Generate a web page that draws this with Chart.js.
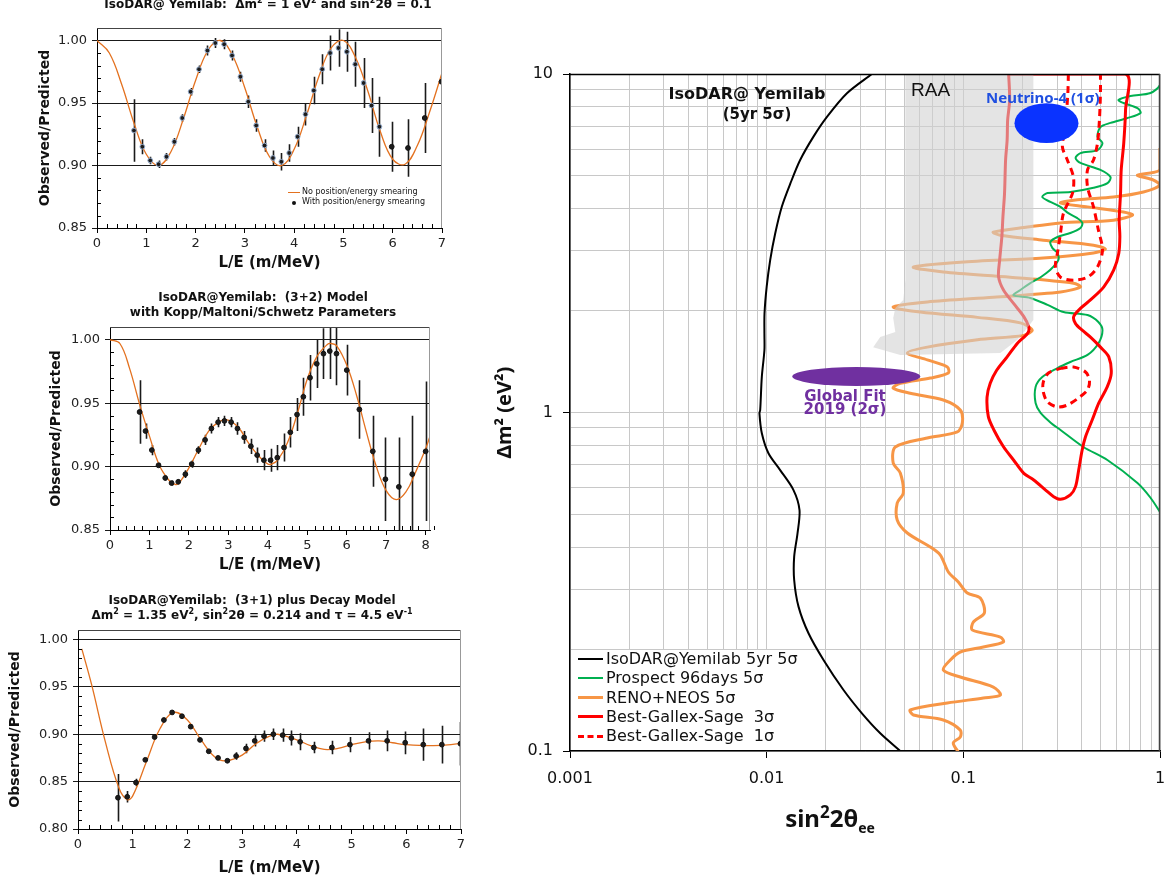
<!DOCTYPE html>
<html>
<head>
<meta charset="utf-8">
<script src="https://cdn.jsdelivr.net/npm/chart.js@4.4.1/dist/chart.umd.min.js"></script>
<style>
  body { margin: 0; background: #fff; }
  #page { position: relative; width: 1174px; height: 881px; overflow: hidden; font-family: "DejaVu Sans", Verdana, sans-serif; color: #111; }
  canvas { position: absolute; }
  .ttl { position: absolute; text-align: center; font-weight: bold; font-size: 12px; line-height: 15px; white-space: pre; }
  .ttl sup { font-size: 8px; line-height: 0; }
  .note { position: absolute; white-space: pre; }
  .lg-row { position: absolute; left: 0; white-space: pre; }
  .sw { position: absolute; }
</style>
</head>
<body>
<div id="page">
  <canvas id="cRatio1" width="470" height="285" style="left:0;top:0"></canvas>
  <canvas id="cRatio2" width="470" height="300" style="left:0;top:285px"></canvas>
  <canvas id="cRatio3" width="470" height="296" style="left:0;top:585px"></canvas>
  <canvas id="cMain" width="694" height="881" style="left:480px;top:0"></canvas>

  <div class="ttl" style="left:60px;top:-3px;width:416px">IsoDAR@ Yemilab:  Δm<sup>2</sup> = 1 eV<sup>2</sup> and sin<sup>2</sup>2θ = 0.1</div>
  <div class="ttl" style="left:63px;top:290px;width:400px">IsoDAR@Yemilab:  (3+2) Model
with Kopp/Maltoni/Schwetz Parameters</div>
  <div class="ttl" style="left:52px;top:593px;width:400px">IsoDAR@Yemilab:  (3+1) plus Decay Model
Δm<sup>2</sup> = 1.35 eV<sup>2</sup>, sin<sup>2</sup>2θ = 0.214 and τ = 4.5 eV<sup>-1</sup></div>

  <div id="legendRatio1" class="note" style="left:288px;top:186px;width:160px;height:24px;font-size:8px"></div>

  <div class="note" style="left:647px;top:83px;width:200px;text-align:center;font-weight:bold;font-size:16px;line-height:21px">IsoDAR@ Yemilab</div>
  <div class="note" style="left:657px;top:104px;width:200px;text-align:center;font-weight:bold;font-size:15px;line-height:21px">(5yr 5σ)</div>
  <div class="note" style="left:911px;top:79px;font-family:'Liberation Sans',Arial,sans-serif;font-size:19px;line-height:22px">RAA</div>
  <div class="note" style="left:986px;top:88px;font-family:'Noto Sans',sans-serif;font-weight:bold;font-size:15px;line-height:18px;color:#1f4fe0">Neutrino-4 (1σ)</div>
  <div class="note" style="left:765px;top:390px;width:160px;text-align:center;font-weight:bold;font-size:15px;line-height:13px;color:#7030a0">Global Fit
2019 (2σ)</div>
  <div class="note" style="left:700px;top:797px;width:260px;text-align:center;font-family:'Noto Sans',sans-serif;font-weight:bold;font-size:24px;line-height:30px">sin<sup style="font-size:17px">2</sup>2θ<sub style="font-size:14px">ee</sub></div>

  <div id="legendMain" class="note" style="left:571px;top:650px;width:243px;height:100px;background:#fff;font-size:16px"></div>
</div>

<script>
/* ── Panel 1: Δm² = 1 eV², sin²2θ = 0.1 ── */
const P1_CURVE_X = [0, 0.25, 0.5, 0.75, 1, 1.25, 1.5, 1.75, 2, 2.25, 2.5, 2.75, 3, 3.25, 3.5, 3.75, 4, 4.25, 4.5, 4.75, 5, 5.25, 5.5, 5.75, 6, 6.25, 6.5, 6.75, 7];
const P1_CURVE_Y = [1.000, 0.990, 0.965, 0.934, 0.909, 0.900, 0.911, 0.937, 0.968, 0.992, 1.000, 0.988, 0.962, 0.931, 0.907, 0.900, 0.913, 0.940, 0.971, 0.994, 1.000, 0.986, 0.959, 0.927, 0.905, 0.901, 0.916, 0.943, 0.974];
const P1_X = [0.75, 0.92, 1.08, 1.25, 1.41, 1.57, 1.73, 1.90, 2.07, 2.24, 2.40, 2.58, 2.74, 2.91, 3.07, 3.23, 3.40, 3.57, 3.74, 3.90, 4.07, 4.23, 4.40, 4.57, 4.73, 4.90, 5.07, 5.24, 5.41, 5.57, 5.73, 5.98, 6.31, 6.65, 6.99];
const P1_Y = [0.928, 0.915, 0.904, 0.901, 0.907, 0.919, 0.938, 0.959, 0.977, 0.992, 0.998, 0.997, 0.988, 0.971, 0.951, 0.932, 0.916, 0.906, 0.903, 0.910, 0.923, 0.941, 0.960, 0.977, 0.990, 0.994, 0.991, 0.981, 0.966, 0.948, 0.931, 0.915, 0.914, 0.938, 0.967];
const P1_ERR = [0.025, 0.006, 0.003, 0.003, 0.003, 0.003, 0.003, 0.003, 0.003, 0.004, 0.004, 0.004, 0.004, 0.004, 0.005, 0.005, 0.005, 0.006, 0.007, 0.007, 0.008, 0.009, 0.011, 0.012, 0.014, 0.015, 0.016, 0.018, 0.020, 0.022, 0.024, 0.020, 0.023, 0.028, 0.12];

/* ── Panel 2: (3+2) model ── */
const P2_CURVE_X = [0, 0.25, 0.5, 0.75, 1, 1.25, 1.5, 1.65, 1.75, 2, 2.25, 2.5, 2.75, 2.95, 3.25, 3.5, 3.75, 4, 4.1, 4.25, 4.5, 4.75, 5, 5.25, 5.5, 5.6, 5.75, 6, 6.25, 6.5, 6.75, 7, 7.25, 7.5, 7.75, 8, 8.11];
const P2_CURVE_Y = [1.000, 0.997, 0.977, 0.949, 0.924, 0.901, 0.889, 0.886, 0.887, 0.899, 0.914, 0.928, 0.935, 0.937, 0.931, 0.919, 0.909, 0.902, 0.902, 0.905, 0.919, 0.942, 0.969, 0.987, 0.996, 0.997, 0.995, 0.980, 0.956, 0.927, 0.900, 0.881, 0.874, 0.880, 0.896, 0.914, 0.924];
const P2_X = [0.75, 0.90, 1.06, 1.23, 1.40, 1.56, 1.73, 1.91, 2.07, 2.24, 2.41, 2.57, 2.74, 2.90, 3.07, 3.23, 3.40, 3.57, 3.73, 3.90, 4.07, 4.24, 4.41, 4.57, 4.74, 4.90, 5.07, 5.24, 5.41, 5.57, 5.74, 6.00, 6.32, 6.66, 6.98, 7.32, 7.66, 8.00];
const P2_Y = [0.943, 0.928, 0.913, 0.901, 0.891, 0.887, 0.888, 0.894, 0.902, 0.913, 0.921, 0.930, 0.935, 0.936, 0.935, 0.930, 0.923, 0.916, 0.909, 0.905, 0.905, 0.907, 0.915, 0.927, 0.941, 0.955, 0.970, 0.981, 0.989, 0.991, 0.989, 0.976, 0.945, 0.912, 0.890, 0.884, 0.894, 0.912];
const P2_ERR = [0.025, 0.006, 0.004, 0.002, 0.002, 0.002, 0.002, 0.003, 0.003, 0.003, 0.004, 0.004, 0.004, 0.004, 0.004, 0.005, 0.005, 0.006, 0.006, 0.008, 0.009, 0.010, 0.011, 0.012, 0.013, 0.015, 0.018, 0.019, 0.020, 0.022, 0.025, 0.020, 0.023, 0.028, 0.033, 0.039, 0.046, 0.055];

/* ── Panel 3: (3+1) plus decay ── */
const P3_CURVE_X = [0.07, 0.25, 0.5, 0.75, 0.9, 1.0, 1.25, 1.5, 1.75, 2.0, 2.25, 2.5, 2.7, 3.0, 3.25, 3.5, 3.65, 4.0, 4.25, 4.5, 4.75, 5.0, 5.25, 5.5, 5.75, 6.0, 6.5, 7.0];
const P3_CURVE_Y = [0.990, 0.952, 0.892, 0.843, 0.831, 0.835, 0.871, 0.906, 0.923, 0.915, 0.894, 0.876, 0.872, 0.878, 0.890, 0.898, 0.900, 0.894, 0.888, 0.884, 0.885, 0.889, 0.892, 0.893, 0.891, 0.889, 0.888, 0.890];
const P3_X = [0.73, 0.90, 1.06, 1.23, 1.40, 1.57, 1.72, 1.90, 2.06, 2.23, 2.39, 2.56, 2.73, 2.89, 3.07, 3.23, 3.40, 3.57, 3.74, 3.90, 4.06, 4.31, 4.64, 4.97, 5.31, 5.65, 5.98, 6.31, 6.65, 6.99];
const P3_Y = [0.833, 0.834, 0.849, 0.873, 0.897, 0.915, 0.923, 0.919, 0.908, 0.894, 0.882, 0.875, 0.872, 0.877, 0.885, 0.893, 0.898, 0.900, 0.899, 0.896, 0.892, 0.886, 0.886, 0.889, 0.893, 0.893, 0.891, 0.889, 0.889, 0.890];
const P3_ERR = [0.025, 0.006, 0.004, 0.002, 0.002, 0.002, 0.002, 0.002, 0.002, 0.002, 0.002, 0.002, 0.002, 0.004, 0.005, 0.006, 0.006, 0.006, 0.007, 0.008, 0.009, 0.006, 0.007, 0.008, 0.009, 0.011, 0.012, 0.017, 0.020, 0.023];

const RATIO_TICKS_7 = [0, 1, 2, 3, 4, 5, 6, 7];
const RATIO_TICKS_8 = [0, 1, 2, 3, 4, 5, 6, 7, 8];
const RATIO_Y_TICKS = [0.85, 0.90, 0.95, 1.00];
const RATIO_Y_TICKS_3 = [0.80, 0.85, 0.90, 0.95, 1.00];

/* ── Exclusion plot: sin²2θee vs Δm² ── */
const SIN_GRID = [0.001, 0.002, 0.003, 0.004, 0.005, 0.006, 0.007, 0.008, 0.009, 0.01, 0.02, 0.03, 0.04, 0.05, 0.06, 0.07, 0.08, 0.09, 0.1, 0.2, 0.3, 0.4, 0.5, 0.6, 0.7, 0.8, 0.9, 1];
const SIN_MAJOR = [0.001, 0.01, 0.1, 1];
const SIN_LABELS = ['0.001', '0.01', '0.1', '1'];
const DM2_GRID = [0.1, 0.2, 0.3, 0.4, 0.5, 0.6, 0.7, 0.8, 0.9, 1, 2, 3, 4, 5, 6, 7, 8, 9, 10];
const DM2_MAJOR = [0.1, 1, 10];
const DM2_LABELS = ['0.1', '1', '10'];

const ISODAR_X = [0.0343, 0.0256, 0.0203, 0.0173, 0.0148, 0.0132, 0.01195, 0.01105, 0.01042, 0.0100, 0.00975, 0.00974, 0.00974, 0.00945, 0.00927, 0.00919, 0.00945, 0.01021, 0.01171, 0.01369, 0.01469, 0.01435, 0.0138, 0.0138, 0.01452, 0.01632, 0.01946, 0.02459, 0.03051, 0.03781, 0.04778];
const ISODAR_Y = [10, 8.77, 7.48, 6.53, 5.57, 4.75, 4.06, 3.38, 2.82, 2.35, 1.96, 1.71, 1.53, 1.276, 1.017, 0.9945, 0.868, 0.758, 0.676, 0.590, 0.515, 0.4396, 0.375, 0.320, 0.267, 0.2227, 0.1857, 0.1514, 0.1292, 0.1128, 0.1];

const PROSPECT_X = [1.0, 1.0, 0.895, 0.708, 0.615, 0.652, 0.768, 0.796, 0.683, 0.560, 0.498, 0.481, 0.510, 0.481, 0.394, 0.372, 0.394, 0.498, 0.560, 0.541, 0.459, 0.350, 0.268, 0.252, 0.277, 0.312, 0.342, 0.380, 0.403, 0.394, 0.350, 0.301, 0.277, 0.284, 0.301, 0.304, 0.277, 0.247, 0.219, 0.195, 0.180,
  0.219, 0.268, 0.323, 0.428, 0.486, 0.510, 0.486, 0.428, 0.350, 0.301, 0.252, 0.233, 0.233, 0.247, 0.280, 0.312, 0.408, 0.540, 0.768, 0.895, 1.0];
const PROSPECT_Y = [10, 9.28, 8.79, 8.61, 8.38, 8.21, 7.93, 7.67, 7.41, 7.17, 6.97, 6.52, 6.25, 5.96, 5.84, 5.65, 5.46, 5.21, 4.96, 4.76, 4.61, 4.48, 4.45, 4.33, 4.19, 4.05, 3.88, 3.75, 3.63, 3.51, 3.39, 3.30, 3.19, 3.06, 2.96, 2.82, 2.64, 2.51, 2.41, 2.30, 2.22,
  2.18, 2.08, 1.98, 1.94, 1.85, 1.75, 1.60, 1.48, 1.41, 1.353, 1.273, 1.19, 1.067, 0.997, 0.93, 0.888, 0.791, 0.724, 0.619, 0.56, 0.508];

const RENO_X = [1.0, 1.0, 0.768, 0.927, 1.0, 0.824, 0.580, 0.380, 0.312, 0.428, 0.652, 0.725, 0.580, 0.312, 0.212, 0.142, 0.154, 0.255, 0.459, 0.528, 0.459, 0.255, 0.0965, 0.0557, 0.0791, 0.173, 0.363, 0.394, 0.312, 0.142, 0.0656, 0.0440, 0.0604, 0.118, 0.195, 0.224, 0.202, 0.118, 0.0656, 0.0519, 0.0656, 0.0829, 0.0839, 0.0679, 0.0478, 0.0440, 0.0537, 0.0791, 0.0965, 0.0988, 0.0932, 0.0656, 0.0451, 0.0440, 0.0478, 0.0495, 0.0461, 0.0461, 0.0519, 0.0679, 0.0764, 0.0839, 0.0943, 0.1048, 0.1220, 0.1279, 0.1124, 0.1111, 0.1543, 0.1598, 0.1264, 0.0965, 0.0859, 0.0791, 0.0965, 0.1421, 0.1543, 0.1264, 0.0829, 0.0537, 0.0557, 0.0791, 0.0965, 0.0965, 0.0889, 0.0943];
const RENO_Y = [6.04, 5.21, 5.03, 4.86, 4.70, 4.48, 4.33, 4.25, 4.16, 4.05, 3.91, 3.83, 3.70, 3.63, 3.53, 3.41, 3.34, 3.23, 3.12, 3.04, 2.96, 2.86, 2.78, 2.69, 2.60, 2.51, 2.41, 2.35, 2.27, 2.19, 2.12, 2.05, 1.98, 1.91, 1.84, 1.75, 1.69, 1.64, 1.56, 1.50, 1.43, 1.363, 1.308, 1.264, 1.22, 1.18, 1.14, 1.089, 1.017, 0.931, 0.876, 0.841, 0.791, 0.709, 0.663, 0.578, 0.540, 0.4815, 0.4406, 0.4006, 0.3793, 0.3379, 0.3157, 0.2929, 0.2831, 0.2557, 0.2404, 0.2277, 0.2171, 0.2099, 0.2029, 0.1961, 0.1857, 0.1735, 0.1654, 0.1545, 0.1463, 0.1434, 0.1386, 0.1322, 0.1278, 0.1235, 0.1153, 0.1100, 0.1056, 0.0994];

const GALLEX3_X = [0.170, 0.172, 0.168, 0.167, 0.164, 0.162, 0.159, 0.157, 0.153, 0.151, 0.160, 0.180, 0.203, 0.215, 0.213, 0.188, 0.167, 0.148, 0.137, 0.132, 0.134, 0.143, 0.160, 0.180, 0.203, 0.228, 0.262, 0.288, 0.312, 0.350, 0.372, 0.386, 0.402, 0.418, 0.452, 0.488, 0.539, 0.565, 0.549, 0.498, 0.443, 0.402, 0.372, 0.364, 0.394, 0.443, 0.518, 0.582, 0.617, 0.625, 0.620, 0.630, 0.635, 0.654, 0.668, 0.668, 0.170];
const GALLEX3_Y = [10, 8.38, 7.31, 6.38, 5.57, 4.44, 3.79, 3.31, 2.82, 2.52, 2.30, 2.10, 1.92, 1.79, 1.72, 1.60, 1.46, 1.335, 1.22, 1.11, 0.972, 0.888, 0.792, 0.724, 0.661, 0.632, 0.590, 0.564, 0.554, 0.571, 0.604, 0.676, 0.775, 0.848, 0.950, 1.065, 1.19, 1.305, 1.46, 1.56, 1.67, 1.75, 1.83, 1.92, 2.03, 2.15, 2.35, 2.64, 2.95, 3.31, 3.70, 4.44, 5.21, 6.24, 7.83, 10, 10];

const GALLEX1_UP_X = [0.342, 0.340, 0.330, 0.319, 0.338, 0.363, 0.359, 0.323, 0.312, 0.301, 0.294, 0.312, 0.363, 0.428, 0.481, 0.510, 0.486, 0.459, 0.428, 0.428, 0.459, 0.481, 0.492, 0.498, 0.498];
const GALLEX1_UP_Y = [10, 8.79, 6.97, 6.09, 5.57, 4.96, 4.45, 3.88, 3.39, 2.96, 2.69, 2.51, 2.46, 2.51, 2.69, 3.02, 3.46, 4.05, 4.64, 5.21, 5.57, 6.25, 7.31, 8.79, 10];
const GALLEX1_LOW_X = [0.312, 0.363, 0.418, 0.438, 0.428, 0.385, 0.338, 0.301, 0.268, 0.255, 0.255, 0.271, 0.312];
const GALLEX1_LOW_Y = [1.351, 1.363, 1.317, 1.247, 1.166, 1.104, 1.052, 1.038, 1.074, 1.150, 1.230, 1.308, 1.351];

const RAA_X = [0.0507, 0.2271, 0.2271, 0.2068, 0.1883, 0.1543, 0.0478, 0.0348, 0.0378, 0.0451, 0.0440, 0.0451, 0.0495, 0.0507, 0.0507];
const RAA_Y = [10, 10, 1.877, 1.75, 1.64, 1.50, 1.479, 1.56, 1.67, 1.729, 1.902, 2.035, 2.15, 2.46, 10];

const NEUTRINO4_X = [0.182, 0.385];
const NEUTRINO4_Y = [6.25, 8.2];
const GLOBALFIT_X = [0.0135, 0.0604];
const GLOBALFIT_Y = [1.198, 1.363];

const LEGEND_LABELS = ['IsoDAR@Yemilab 5yr 5σ', 'Prospect 96days 5σ', 'RENO+NEOS 5σ', 'Best-Gallex-Sage  3σ', 'Best-Gallex-Sage  1σ'];

/* ─────────── helpers & plugins ─────────── */
Chart.defaults.font.family = '"DejaVu Sans", Verdana, sans-serif';
Chart.defaults.color = '#111';
Chart.defaults.animation = false;
Chart.defaults.plugins.legend.display = false;
Chart.defaults.plugins.tooltip.enabled = false;

const ORANGE_CURVE = '#e3711f';
const zip = (xs, ys) => xs.map((x, i) => ({ x, y: ys[i] }));

const errorBars = {
  id: 'errorBars',
  beforeDatasetsDraw(chart) {
    const { ctx, chartArea: a, scales: { x, y } } = chart;
    ctx.save();
    ctx.beginPath(); ctx.rect(a.left, a.top, a.width, a.height); ctx.clip();
    chart.data.datasets.forEach(ds => {
      if (!ds.errors) return;
      ctx.strokeStyle = '#1a1a1a';
      ctx.lineWidth = 1.6;
      ctx.beginPath();
      ds.data.forEach((p, i) => {
        const px = Math.round(x.getPixelForValue(p.x)) + 0.5;
        ctx.moveTo(px, y.getPixelForValue(p.y + ds.errors[i]));
        ctx.lineTo(px, y.getPixelForValue(p.y - ds.errors[i]));
      });
      ctx.stroke();
    });
    ctx.restore();
  }
};

// short inward ticks between the labelled ones
const minorTicks = {
  id: 'minorTicks',
  afterDraw(chart, args, opts) {
    if (!opts.xStep) return;
    const { ctx, chartArea: a, scales: { x, y } } = chart;
    ctx.save();
    ctx.strokeStyle = '#000';
    ctx.lineWidth = 1;
    ctx.beginPath();
    const nx = Math.round((x.max - x.min) / opts.xStep);
    for (let i = 1; i <= nx; i++) {
      const v = x.min + i * opts.xStep;
      if (Math.abs(v - Math.round(v)) < 1e-6) continue;
      const px = Math.round(x.getPixelForValue(v)) + 0.5;
      ctx.moveTo(px, a.bottom); ctx.lineTo(px, a.bottom - opts.len);
    }
    const ny = Math.round((y.max - y.min) / opts.yStep);
    for (let i = 1; i < ny; i++) {
      const v = y.min + i * opts.yStep;
      const r = v / 0.05;
      if (Math.abs(r - Math.round(r)) < 1e-6) continue;
      const py = Math.round(y.getPixelForValue(v)) + 0.5;
      ctx.moveTo(a.left, py); ctx.lineTo(a.left + opts.len, py);
    }
    ctx.stroke();
    ctx.restore();
  }
};

const frame = {
  id: 'frame',
  afterDraw(chart, args, opts) {
    const { ctx, chartArea: a } = chart;
    ctx.save();
    ctx.lineWidth = opts.width || 1;
    ctx.strokeStyle = opts.top || '#777';
    ctx.beginPath(); ctx.moveTo(a.left, a.top + 0.5); ctx.lineTo(a.right, a.top + 0.5); ctx.stroke();
    ctx.strokeStyle = opts.right || '#999';
    ctx.beginPath(); ctx.moveTo(a.right - 0.5, a.top); ctx.lineTo(a.right - 0.5, a.bottom); ctx.stroke();
    ctx.restore();
  }
};

const blobs = {
  id: 'blobs',
  afterDatasetsDraw(chart, args, opts) {
    const { ctx, scales: { x, y } } = chart;
    (opts.items || []).forEach(b => {
      const x0 = x.getPixelForValue(b.x[0]), x1 = x.getPixelForValue(b.x[1]);
      const y0 = y.getPixelForValue(b.y[0]), y1 = y.getPixelForValue(b.y[1]);
      ctx.save();
      ctx.fillStyle = b.color;
      ctx.beginPath();
      ctx.ellipse((x0 + x1) / 2, (y0 + y1) / 2, Math.abs(x1 - x0) / 2, Math.abs(y1 - y0) / 2, 0, 0, Math.PI * 2);
      ctx.fill();
      ctx.restore();
    });
  }
};

// keep the plot box fixed: no extra room for overhanging end labels
const fixBox = (s, key, size) => { s[key] = size; s.paddingLeft = 0; s.paddingRight = 0; };

// ── Ratio panels (left column) ──
function renderRatioChart(id, cfg) {
  return new Chart(document.getElementById(id), {
    type: 'scatter',
    data: {
      datasets: [
        { data: zip(cfg.curveX, cfg.curveY), showLine: true, borderColor: ORANGE_CURVE, borderWidth: 1.3, pointRadius: 0, tension: 0.4, order: 2 },
        { data: zip(cfg.x, cfg.y), errors: cfg.err, pointRadius: 2.4, pointBorderWidth: 1,
          pointBackgroundColor: '#1c1c1c',
          pointBorderColor: c => (cfg.haloUntil && c.dataIndex < cfg.haloUntil) ? '#94abcb' : '#111', order: 1 }
      ]
    },
    options: {
      responsive: false,
      layout: { padding: { top: cfg.box.top, right: cfg.box.right, left: 0, bottom: 0 } },
      scales: {
        x: {
          min: 0, max: cfg.xMax,
          afterBuildTicks: s => { s.ticks = cfg.xTicks.map(v => ({ value: v })); },
          afterFit: s => fixBox(s, 'height', cfg.box.xh),
          ticks: { autoSkip: false, maxRotation: 0, font: { size: 13 }, color: '#222', padding: 3 },
          grid: { drawOnChartArea: false, tickLength: 5, color: '#000' },
          border: { color: '#000' },
          title: { display: true, text: 'L/E (m/MeV)', font: { size: 15, weight: 'bold' }, padding: { top: 0, bottom: cfg.box.xTitle } }
        },
        y: {
          min: cfg.yMin, max: 1.01,
          afterBuildTicks: s => { s.ticks = cfg.yTicks.map(v => ({ value: v })); },
          afterFit: s => { s.width = cfg.box.yw; },
          ticks: { autoSkip: false, font: { size: 13 }, color: '#222', padding: 5, callback: v => v.toFixed(2) },
          grid: { color: '#1a1a1a', tickLength: 5 },
          border: { color: '#000' },
          title: { display: true, text: 'Observed/Predicted', font: { size: 14, weight: 'bold' }, padding: { top: cfg.box.yTitle, bottom: 0 } }
        }
      },
      plugins: { minorTicks: { xStep: 0.2, yStep: 0.01, len: 4 }, frame: { top: '#444', right: '#999' } }
    },
    plugins: [errorBars, minorTicks, frame]
  });
}

renderRatioChart('cRatio1', {
  curveX: P1_CURVE_X, curveY: P1_CURVE_Y, x: P1_X, y: P1_Y, err: P1_ERR, haloUntil: 31,
  xMax: 7, xTicks: RATIO_TICKS_7, yMin: 0.85, yTicks: RATIO_Y_TICKS,
  box: { top: 28, right: 28, xh: 57, yw: 97, xTitle: 13, yTitle: 37 }
});
renderRatioChart('cRatio2', {
  curveX: P2_CURVE_X, curveY: P2_CURVE_Y, x: P2_X, y: P2_Y, err: P2_ERR,
  xMax: 8.11, xTicks: RATIO_TICKS_8, yMin: 0.85, yTicks: RATIO_Y_TICKS,
  box: { top: 42, right: 40, xh: 55, yw: 110, xTitle: 11, yTitle: 48 }
});
renderRatioChart('cRatio3', {
  curveX: P3_CURVE_X, curveY: P3_CURVE_Y, x: P3_X, y: P3_Y, err: P3_ERR,
  xMax: 7, xTicks: RATIO_TICKS_7, yMin: 0.80, yTicks: RATIO_Y_TICKS_3,
  box: { top: 45, right: 9, xh: 52, yw: 78, xTitle: 4, yTitle: 7 }
});

// small legend, panel 1
document.getElementById('legendRatio1').innerHTML =
  '<div class="sw" style="left:0;top:6px;width:12px;border-top:1.3px solid ' + ORANGE_CURVE + '"></div>' +
  '<div class="lg-row" style="left:14px;top:1px">No position/energy smearing</div>' +
  '<div class="sw" style="left:4px;top:15px;width:4px;height:4px;border-radius:50%;background:#111"></div>' +
  '<div class="lg-row" style="left:14px;top:11px">With position/energy smearing</div>';

// ── Exclusion contours (right) ──
const MAIN_SERIES = [
  { label: LEGEND_LABELS[0], x: ISODAR_X, y: ISODAR_Y, color: '#000000', width: 2, dash: [], order: 1 },
  { label: LEGEND_LABELS[1], x: PROSPECT_X, y: PROSPECT_Y, color: '#00b050', width: 2, dash: [], order: 3 },
  { label: LEGEND_LABELS[2], x: RENO_X, y: RENO_Y, color: '#f79646', width: 3, dash: [], order: 4 },
  { label: LEGEND_LABELS[3], x: GALLEX3_X, y: GALLEX3_Y, color: '#ff0000', width: 3, dash: [], order: 2 },
  { label: LEGEND_LABELS[4], x: GALLEX1_UP_X, y: GALLEX1_UP_Y, color: '#ff0000', width: 3, dash: [7, 5], order: 2 },
  { label: null, x: GALLEX1_LOW_X, y: GALLEX1_LOW_Y, color: '#ff0000', width: 3, dash: [7, 5], order: 2 }
];

const mainDatasets = MAIN_SERIES.map(s => ({
  label: s.label || '', data: zip(s.x, s.y), showLine: true, pointRadius: 0,
  borderColor: s.color, borderWidth: s.width, borderDash: s.dash, tension: 0.3, order: s.order, fill: false
}));
mainDatasets.push({
  label: 'RAA', data: zip(RAA_X, RAA_Y), showLine: true, pointRadius: 0, borderWidth: 0,
  borderColor: 'rgba(0,0,0,0)', backgroundColor: 'rgba(208,208,208,0.58)', fill: 'shape', tension: 0, order: 0
});

new Chart(document.getElementById('cMain'), {
  type: 'scatter',
  data: { datasets: mainDatasets },
  options: {
    responsive: false,
    layout: { padding: { top: 74, right: 14, left: 0, bottom: 0 } },
    scales: {
      x: {
        type: 'logarithmic', min: 0.001, max: 1,
        afterBuildTicks: s => { s.ticks = SIN_GRID.map(v => ({ value: v })); },
        afterFit: s => fixBox(s, 'height', 130),
        ticks: { autoSkip: false, maxRotation: 0, font: { size: 16 }, color: '#111', padding: 11,
          callback: v => { const k = SIN_MAJOR.indexOf(v); return k >= 0 ? SIN_LABELS[k] : ''; } },
        grid: { color: '#c8c8c8', lineWidth: 1, tickLength: 7,
          tickColor: c => SIN_MAJOR.includes(c.tick && c.tick.value) ? '#000' : 'rgba(0,0,0,0)' },
        border: { color: '#000', width: 1.5 }
      },
      y: {
        type: 'logarithmic', min: 0.1, max: 10,
        afterBuildTicks: s => { s.ticks = DM2_GRID.map(v => ({ value: v })); },
        afterFit: s => { s.width = 90; },
        ticks: { autoSkip: false, font: { size: 16 }, color: '#111', padding: 10,
          callback: v => { const k = DM2_MAJOR.indexOf(v); return k >= 0 ? DM2_LABELS[k] : ''; } },
        grid: { color: '#c8c8c8', lineWidth: 1, tickLength: 7,
          tickColor: c => DM2_MAJOR.includes(c.tick && c.tick.value) ? '#000' : 'rgba(0,0,0,0)' },
        border: { color: '#000', width: 1.5 },
        title: { display: true, text: 'Δm² (eV²)', font: { family: '"Noto Sans", sans-serif', size: 20, weight: 'bold' }, padding: { top: 13, bottom: 0 } }
      }
    },
    plugins: {
      frame: { top: '#000', right: '#444', width: 1.5 },
      blobs: { items: [
        { x: NEUTRINO4_X, y: NEUTRINO4_Y, color: '#0a33ff' },
        { x: GLOBALFIT_X, y: GLOBALFIT_Y, color: '#7030a0' }
      ] }
    }
  },
  plugins: [frame, blobs]
});

// legend box for the contour plot, built from the series list
document.getElementById('legendMain').innerHTML = MAIN_SERIES.filter(s => s.label).map((s, i) => {
  const top = 9 + i * 19.3;
  const style = s.dash.length ? 'dashed' : 'solid';
  return '<div class="sw" style="left:7px;top:' + Math.round(top - s.width / 2) + 'px;width:25px;border-top:' + s.width + 'px ' + style + ' ' + s.color + '"></div>' +
    '<div class="lg-row" style="left:35px;top:' + (top - 10) + 'px;line-height:20px">' + s.label + '</div>';
}).join('');
</script>
</body>
</html>
